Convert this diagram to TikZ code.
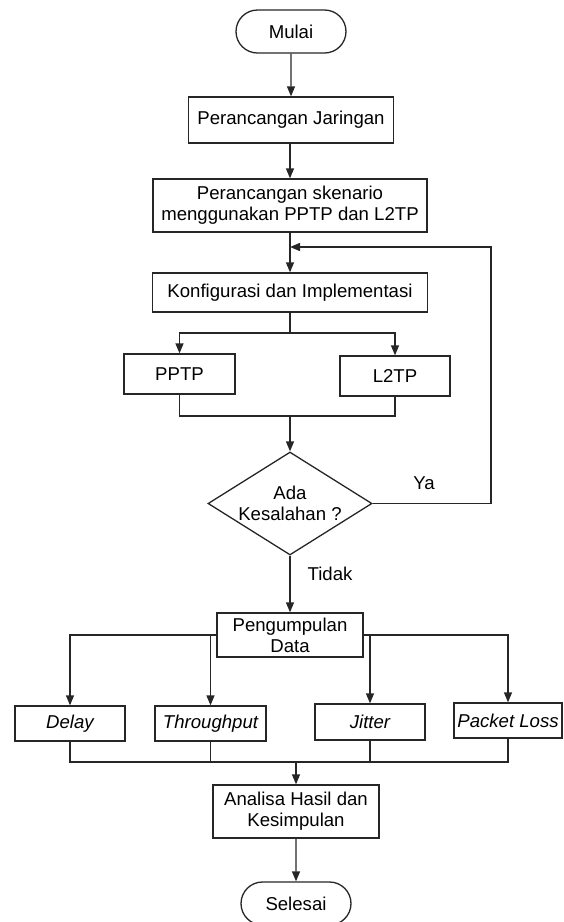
\documentclass[tikz,border=0pt]{standalone}
\usepackage{fontspec}
\setmainfont{Liberation Sans}
\usetikzlibrary{shapes.geometric,shapes.misc,arrows.meta}

\tikzset{
  box/.style={draw, inner sep=0pt, align=center},
  term/.style={draw, rounded rectangle, inner sep=0pt,
    minimum width=55pt, minimum height=21.5pt},
  decision/.style={draw, diamond, aspect=1.6, inner sep=0pt, align=center,
    minimum width=82pt, minimum height=51.5pt},
  arr/.style={-{Triangle[length=5pt,width=4pt]}},
}

\begin{document}
\begin{tikzpicture}[x=0.5pt, y=-0.5pt, line width=0.65pt, draw=black!85,
  font=\fontsize{9.3}{10.5}\selectfont]
\useasboundingbox (0,0) rectangle (563,922);

\node[term] (mulai) at (291,31.5) {Mulai};
\node[box, minimum width=102.5pt, minimum height=23pt] (jaringan) at (291,120) {Perancangan Jaringan};
\node[box, minimum width=137pt, minimum height=26.5pt] (skenario) at (290,205.5) {Perancangan skenario\\menggunakan PPTP dan L2TP};
\node[box, minimum width=137.5pt, minimum height=19.5pt] (konfig) at (290,292.5) {Konfigurasi dan Implementasi};
\node[box, minimum width=55.5pt, minimum height=20pt] (pptp) at (179.5,374) {PPTP};
\node[box, minimum width=55pt, minimum height=20pt] (l2tp) at (395,376) {L2TP};
\node[decision] (cek) at (290,503.5) {Ada\\Kesalahan ?};
\node[box, minimum width=73pt, minimum height=22pt] (data) at (290,635) {Pengumpulan\\Data};
\node[box, minimum width=55pt, minimum height=17.5pt] (delay) at (70,723.5) {\itshape Delay};
\node[box, minimum width=55.5pt, minimum height=17.5pt] (throughput) at (210.5,723.5) {\itshape Throughput};
\node[box, minimum width=55pt, minimum height=18pt] (jitter) at (370,722) {\itshape Jitter};
\node[box, minimum width=54pt, minimum height=17.5pt] (loss) at (508,720.5) {\itshape Packet Loss};
\node[box, minimum width=83pt, minimum height=26.5pt] (analisa) at (296,811.5) {Analisa Hasil dan\\Kesimpulan};
\node[term] (selesai) at (296,903.5) {Selesai};

\coordinate (pisah) at (290,333);
\coordinate (gabung) at (290,416);
\coordinate (ulang) at (290,247);
\coordinate (sudut) at (491,503.5);
\coordinate (kumpul) at (296,762);

\draw[arr] (mulai) -- (jaringan);
\draw[arr] (jaringan.south -| skenario) -- (skenario);
\draw[arr] (skenario) -- (konfig);
\draw (konfig) -- (pisah);
\draw[arr] (pisah) -| (pptp.north);
\draw[arr] (pisah) -| (l2tp.north);
\draw (pptp.south) |- (gabung) -| (l2tp.south);
\draw[arr] (gabung) -- (cek.north);
\draw[arr] (cek.east) -- (sudut) |- (ulang);
\node (ya) at (424,483) {Ya};
\draw[arr] (cek.south) -- (data.north);
\node (tidak) at (330,574) {Tidak};

\draw[arr] (data.west) -| (delay.north);
\draw[arr] (throughput.north |- data.west) -- (throughput.north);
\draw[arr] (data.east) -| (loss.north);
\draw[arr] (jitter.north |- data.east) -- (jitter.north);
\draw (delay.south) |- (kumpul) -| (loss.south);
\draw (throughput.south) -- (throughput.south |- kumpul);
\draw (jitter.south) -- (jitter.south |- kumpul);
\draw[arr] (kumpul) -- (analisa.north);
\draw[arr] (analisa) -- (selesai);

\end{tikzpicture}
\end{document}
